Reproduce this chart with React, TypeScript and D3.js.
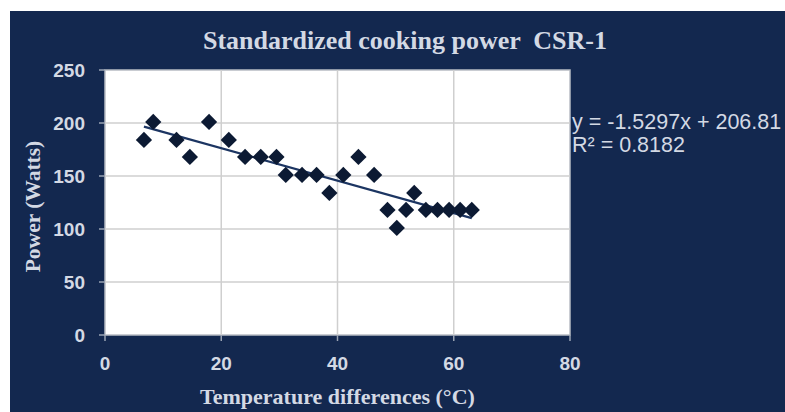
import React from "react";
import * as d3 from "d3";

const tempDiff = [6.7, 8.3, 12.3, 14.6, 17.9, 21.3, 24.1, 26.8, 29.5, 31.1, 33.9, 36.4, 38.6, 41.0, 43.6, 46.3, 48.6, 50.2, 51.8, 53.2, 55.2, 57.2, 59.2, 61.1, 63.1];
const power = [184, 201, 184, 168, 201, 184, 168, 168, 168, 151, 151, 151, 134, 151, 168, 151, 118, 101, 118, 134, 118, 118, 118, 118, 118];
const xTicks = [0, 20, 40, 60, 80];
const yTicks = [0, 50, 100, 150, 200, 250];
const slope = -1.5297;
const intercept = 206.81;
const rSquared = 0.8182;
const title = "Standardized cooking power  CSR-1";
const xTitle = "Temperature differences (°C)";
const yTitle = "Power (Watts)";

const W = 785;
const H = 412;
const plot = { left: 105, right: 570, top: 70, bottom: 335 };
const bg = "#13284f";
const textCol = "#d3d9e4";
const sans = "'Liberation Sans', Arial, sans-serif";
const serif = "'Liberation Serif', 'Times New Roman', serif";

export default function App() {
  const x = d3.scaleLinear().domain([0, 80]).range([plot.left, plot.right]);
  const y = d3.scaleLinear().domain([0, 250]).range([plot.bottom, plot.top]);
  const diamond = d3.symbol(d3.symbolSquare, 132)() as string;
  const xMin = d3.min(tempDiff) as number;
  const xMax = d3.max(tempDiff) as number;
  const trend = d3.line<number>().x((v) => x(v)).y((v) => y(slope * v + intercept))([xMin, xMax]) as string;

  return (
    <div style={{ position: "absolute", left: 0, top: 0 }}>
      <svg width={W} height={H} style={{ display: "block", background: "#ffffff" }}>
        <rect x={10} y={11} width={W - 10} height={H - 11} fill={bg} />
        <text x={405} y={49} textAnchor="middle" fontFamily={serif} fontWeight="bold" fontSize={26} fill={textCol} style={{ whiteSpace: "pre" }}>
          {title}
        </text>
        <rect x={plot.left} y={plot.top} width={plot.right - plot.left} height={plot.bottom - plot.top} fill="#ffffff" stroke="#b8bcc4" strokeWidth={1.5} />
        {yTicks.filter((t) => t > 0 && t < 250).map((t) => (
          <line key={"gy" + t} x1={plot.left} x2={plot.right} y1={y(t)} y2={y(t)} stroke="#cfcfcf" strokeWidth={1.5} />
        ))}
        {xTicks.filter((t) => t > 0 && t < 80).map((t) => (
          <line key={"gx" + t} x1={x(t)} x2={x(t)} y1={plot.top} y2={plot.bottom} stroke="#cfcfcf" strokeWidth={1.5} />
        ))}
        {yTicks.map((t) => (
          <g key={"ty" + t}>
            <line x1={plot.left - 6} x2={plot.left} y1={y(t)} y2={y(t)} stroke="#9aa3b3" strokeWidth={1.5} />
            <text x={85} y={y(t)} dy="0.36em" textAnchor="end" fontFamily={sans} fontWeight="bold" fontSize={19} fill={textCol}>
              {t}
            </text>
          </g>
        ))}
        {xTicks.map((t) => (
          <g key={"tx" + t}>
            <line x1={x(t)} x2={x(t)} y1={plot.bottom} y2={plot.bottom + 6} stroke="#9aa3b3" strokeWidth={1.5} />
            <text x={x(t)} y={370} textAnchor="middle" fontFamily={sans} fontWeight="bold" fontSize={19} fill={textCol}>
              {t}
            </text>
          </g>
        ))}
        <path d={trend} fill="none" stroke="#1c3562" strokeWidth={2.2} />
        {tempDiff.map((t, i) => (
          <path key={"p" + i} d={diamond} transform={`translate(${x(t)},${y(power[i])}) rotate(45)`} fill="#0c1a33" />
        ))}
        <text x={572} y={129} fontFamily={sans} fontSize={21.5} fill={textCol}>
          {`y = ${slope}x + ${intercept}`}
        </text>
        <text x={572} y={152} fontFamily={sans} fontSize={21.5} fill={textCol}>
          {`R² = ${rSquared}`}
        </text>
        <text x={(plot.left + plot.right) / 2} y={404} textAnchor="middle" fontFamily={serif} fontWeight="bold" fontSize={22} fill={textCol}>
          {xTitle}
        </text>
        <text transform={`translate(40,${(plot.top + plot.bottom) / 2 + 4}) rotate(-90)`} textAnchor="middle" fontFamily={serif} fontWeight="bold" fontSize={21.5} fill={textCol}>
          {yTitle}
        </text>
      </svg>
    </div>
  );
}
